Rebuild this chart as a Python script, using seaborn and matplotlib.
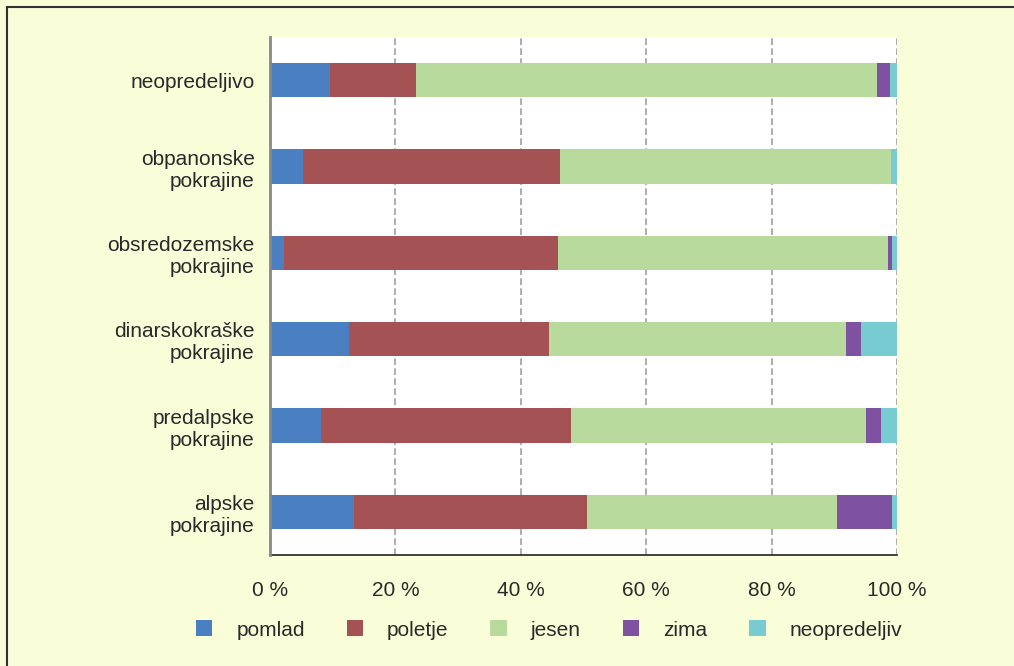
import numpy as np
import pandas as pd
import matplotlib
matplotlib.use("Agg")
import matplotlib.pyplot as plt
import seaborn as sns
from matplotlib.patches import Patch, Rectangle

regions = [
    "neopredeljivo",
    "obpanonske\npokrajine",
    "obsredozemske\npokrajine",
    "dinarskokraške\npokrajine",
    "predalpske\npokrajine",
    "alpske\npokrajine",
]
seasons = ["pomlad", "poletje", "jesen", "zima", "neopredeljiv"]
pomlad = [9.6, 5.3, 2.2, 12.6, 8.2, 13.4]
poletje = [13.7, 41.0, 43.7, 31.9, 39.8, 37.2]
jesen = [73.5, 52.7, 52.7, 47.4, 47.1, 39.8]
zima = [2.1, 0.0, 0.6, 2.4, 2.3, 8.8]
neopredeljiv = [1.1, 1.0, 0.8, 5.7, 2.6, 0.8]
x_ticks = [0, 20, 40, 60, 80, 100]

colors = ["#4A7FC1", "#A55254", "#B8DA9C", "#7E52A0", "#78CCD1"]
bg = "#F9FDD8"
text_col = "#2A2A2A"

df = pd.DataFrame(
    {"pomlad": pomlad, "poletje": poletje, "jesen": jesen,
     "zima": zima, "neopredeljiv": neopredeljiv},
    index=regions,
)
cum = df[seasons].cumsum(axis=1)

sns.set_style("white")
plt.rcParams["font.family"] = ["Liberation Sans", "DejaVu Sans"]

fig = plt.figure(figsize=(10.14, 6.66), dpi=100, facecolor=bg)
ax = fig.add_axes([270 / 1014, 1 - 555 / 666, 627 / 1014, 518 / 666])
ax.set_facecolor("white")

# stacked bars: draw cumulative totals from the last series to the first
for season, col in reversed(list(zip(seasons, colors))):
    sns.barplot(x=cum[season].values, y=regions, orient="h", color=col,
                width=0.4, saturation=1, linewidth=0, ax=ax, zorder=3)

ax.set_xlim(0, 100)
ax.set_ylim(5.5, -0.5)
ax.set_xticks(x_ticks)
ax.set_xticklabels([f"{t} %" for t in x_ticks])
ax.set_xlabel("")
ax.set_ylabel("")
ax.tick_params(axis="x", length=8, width=1.2, color="#888888", pad=11,
               labelsize=15, labelcolor=text_col)
ax.tick_params(axis="y", length=0, pad=11, labelsize=15, labelcolor=text_col)
for lbl in ax.get_yticklabels():
    lbl.set_linespacing(1.2)

for t in x_ticks[1:]:
    ax.axvline(t, color="#A0A0A0", lw=1.2, ls=(0, (4, 2)), zorder=1)

for side in ["top", "right"]:
    ax.spines[side].set_visible(False)
ax.spines["left"].set_color("#888888")
ax.spines["left"].set_linewidth(2)
ax.spines["bottom"].set_color("#222222")
ax.spines["bottom"].set_linewidth(1.2)
ax.spines["left"].set_zorder(5)

# outer frame (top and left edges visible)
fig.add_artist(Rectangle((7 / 1014, -0.1), 1.2, 1.1 - 7 / 666,
                         transform=fig.transFigure, fill=False,
                         edgecolor="#333333", lw=1.5))

handles = [Patch(facecolor=c, edgecolor="none") for c in colors]
fig.legend(handles, seasons, loc="center", bbox_to_anchor=(549 / 1014, 1 - 630 / 666),
           ncol=5, frameon=False, fontsize=15, handlelength=0.8, handleheight=0.8,
           handletextpad=1.15, columnspacing=2.0, labelcolor=text_col)

fig.savefig("out.png", dpi=100, facecolor=bg)
